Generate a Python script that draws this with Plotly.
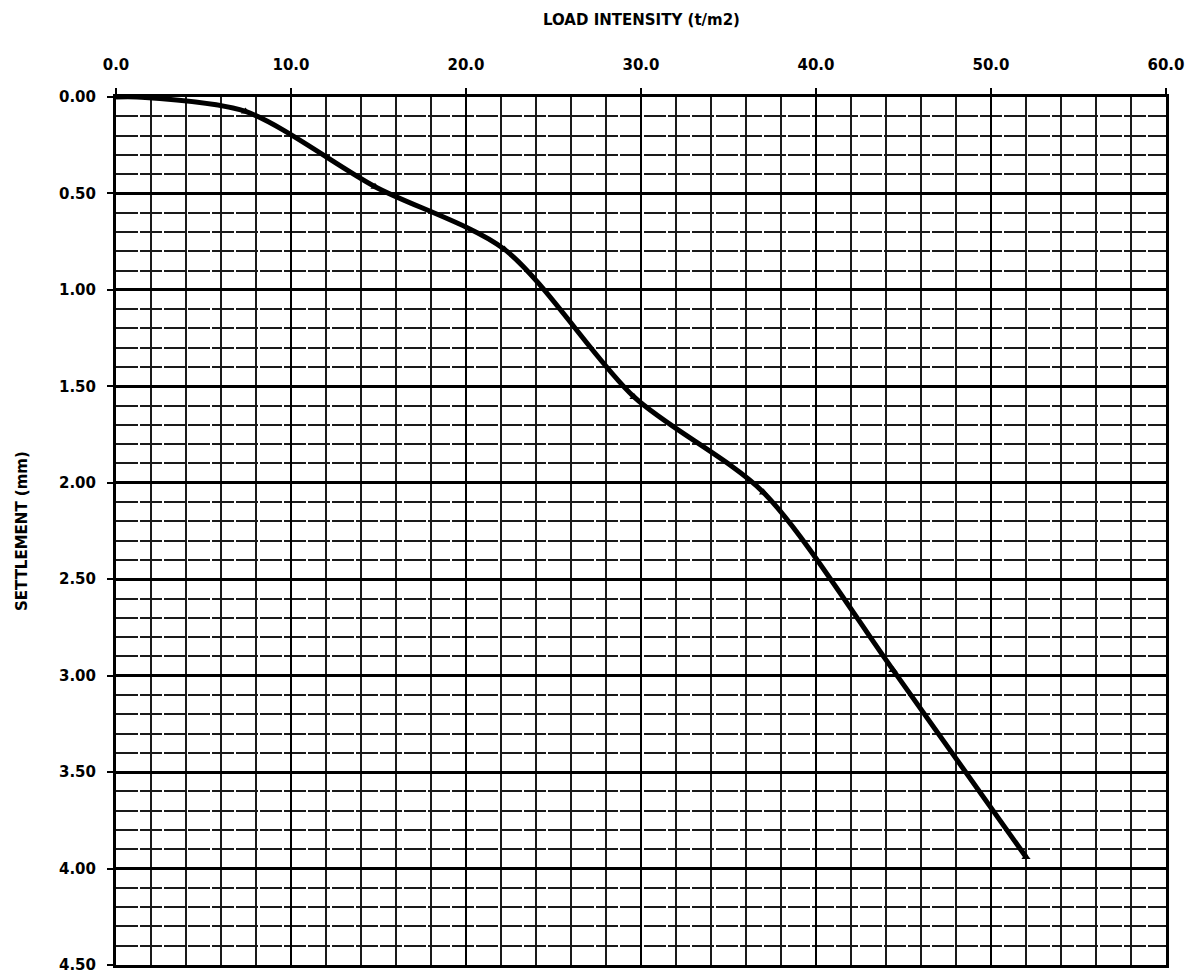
import plotly.graph_objects as go

load = [0.0, 1.2, 7.4, 14.8, 22.2, 29.6, 37.0, 44.4, 52.0]
settlement = [0.0, 0.0, 0.075, 0.465, 0.79, 1.555, 2.05, 2.97, 3.94]

x_ticks = [0, 10, 20, 30, 40, 50, 60]
y_ticks = [0.0, 0.5, 1.0, 1.5, 2.0, 2.5, 3.0, 3.5, 4.0, 4.5]

font_family = "DejaVu Sans"

fig = go.Figure()
fig.add_trace(go.Scatter(
    x=load, y=settlement, mode="lines+markers",
    line=dict(color="black", width=5, shape="spline", smoothing=0.8),
    marker=dict(symbol="triangle-up", size=8, color="black"),
    showlegend=False,
))

fig.update_layout(
    width=1193, height=978,
    margin=dict(l=116, r=27, t=97, b=13, autoexpand=False),
    paper_bgcolor="white", plot_bgcolor="white",
    font=dict(family=font_family, color="black", size=15),
    annotations=[
        dict(text="<b>LOAD INTENSITY (t/m2)</b>", xref="paper", yref="paper",
             x=0.5, y=1.0, yshift=77, xanchor="center", yanchor="middle",
             showarrow=False, font=dict(size=15, family=font_family)),
        dict(text="<b>SETTLEMENT (mm)</b>", xref="paper", yref="paper",
             x=0.0, xshift=-94, y=0.5, xanchor="center", yanchor="middle",
             textangle=-90, showarrow=False,
             font=dict(size=15, family=font_family)),
    ],
)

fig.update_xaxes(
    side="top", range=[0, 60], tickvals=x_ticks,
    ticktext=[f"<b>{v:.1f}</b>" for v in x_ticks],
    showgrid=True, gridcolor="black", gridwidth=2,
    minor=dict(dtick=2, showgrid=True, gridcolor="#1a1a1a", gridwidth=1.8,
               ticks=""),
    ticks="outside", ticklen=6, tickcolor="black", tickwidth=1.5,
    ticklabelstandoff=12,
    showline=True, linecolor="black", linewidth=3, mirror=True,
    zeroline=False, tickfont=dict(size=15), automargin=False,
)
fig.update_yaxes(
    range=[4.5, 0], tickvals=y_ticks,
    ticktext=[f"<b>{v:.2f}</b>" for v in y_ticks],
    showgrid=True, gridcolor="black", gridwidth=3,
    minor=dict(dtick=0.1, showgrid=True, gridcolor="#1a1a1a", gridwidth=1.8,
               griddash="22px,2px", ticks=""),
    ticks="outside", ticklen=6, tickcolor="black", tickwidth=1.5,
    ticklabelstandoff=8,
    showline=True, linecolor="black", linewidth=3, mirror=True,
    zeroline=False, tickfont=dict(size=15), automargin=False,
)

fig.write_html(
    "out.html",
    config={"displayModeBar": False},
    post_script="document.body.style.margin='0';document.body.style.overflow='hidden';",
)
